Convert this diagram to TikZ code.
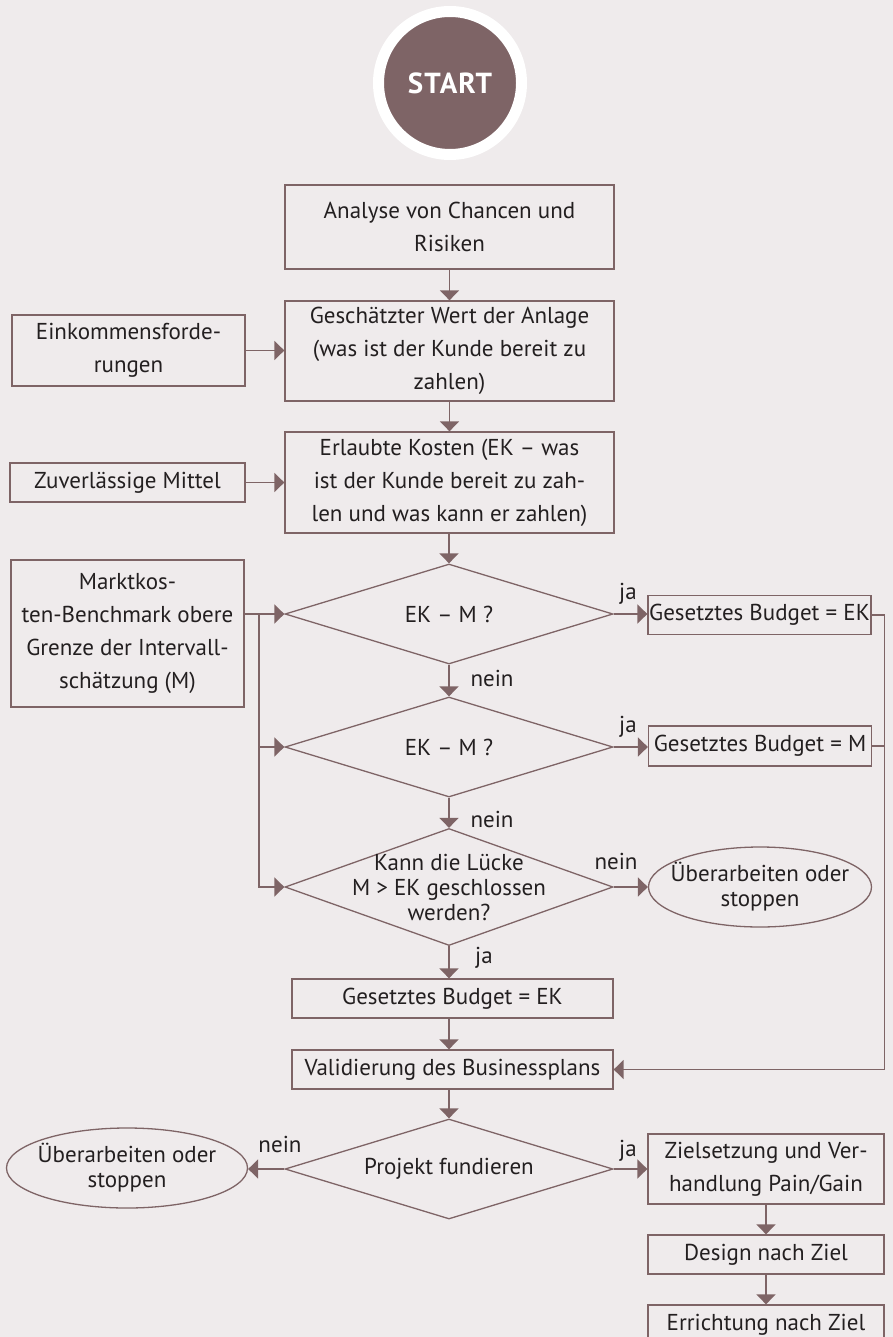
\documentclass[tikz,border=0pt]{standalone}
\usepackage{fontspec}
\setmainfont{PT Sans}
\usetikzlibrary{shapes.geometric,arrows.meta}
\definecolor{bgc}{HTML}{EFEBEC}
\definecolor{linec}{HTML}{7E6466}
\definecolor{txtc}{HTML}{231F20}
\begin{document}
\begin{tikzpicture}[x=1pt,y=-1pt,
  every node/.style={text=txtc,font=\fontsize{23}{33}\selectfont},
  box/.style={draw=linec,line width=1.3pt,rectangle,align=center,inner sep=0pt},
  decision/.style={draw=linec,line width=1.3pt,diamond,inner sep=0pt,minimum width=328pt,minimum height=100pt},
  term/.style={draw=linec,line width=1.3pt,ellipse,inner sep=0pt,minimum height=80pt},
  conn/.style={draw=linec,line width=1.5pt},
  flow/.style={conn,-{Triangle[width=19pt,length=10pt]}},
  lbl/.style={inner sep=0pt,align=center,font=\fontsize{23}{25}\selectfont}]
\path[fill=bgc,use as bounding box] (0,0) rectangle (893,1337);
\clip (0,0) rectangle (893,1337);
\node[circle,fill=linec,draw=white,line width=11pt,minimum size=143pt,inner sep=0pt,text=white,font=\fontsize{29}{29}\selectfont\bfseries\addfontfeatures{LetterSpace=4}] (start) at (450,83) {START};
\node[box,minimum width=329pt,minimum height=84pt] (analyse) at (449.5,227) {Analyse von Chancen und\\Risiken};
\node[box,minimum width=329pt,minimum height=100pt] (wert) at (449.5,351) {Geschätzter Wert der Anlage\\(was ist der Kunde bereit zu\\zahlen)};
\node[box,minimum width=233pt,minimum height=71pt] (einkommen) at (128.5,350.5) {Einkommensforde-\\rungen};
\node[box,minimum width=329pt,minimum height=101pt] (kosten) at (449.5,482.5) {Erlaubte Kosten (EK – was\\ist der Kunde bereit zu zah-\\len und was kann er zahlen)};
\node[box,minimum width=235pt,minimum height=39pt] (mittel) at (127.5,482.5) {Zuverlässige Mittel};
\node[box,minimum width=233pt,minimum height=147pt] (markt) at (127.5,633.5) {Marktkos-\\ten-Benchmark obere\\Grenze der Intervall-\\schätzung (M)};
\node[decision] (d1) at (449,614) {};
\node[lbl] (d1txt) at (d1) {EK – M ?};
\node[decision] (d2) at (449,747) {};
\node[lbl] (d2txt) at (d2) {EK – M ?};
\node[decision,minimum height=117pt] (d3) at (449,887) {};
\node[lbl] (d3txt) at (d3) {Kann die Lücke\\M > EK geschlossen\\werden?};
\node[box,minimum width=223pt,minimum height=39pt] (budek) at (759.5,615) {Gesetztes Budget = EK};
\node[box,minimum width=223pt,minimum height=40pt] (budm) at (760,746) {Gesetztes Budget = M};
\node[term,minimum width=223pt] (stop1) at (760,887) {};
\node[lbl] (stop1txt) at (stop1) {Überarbeiten oder\\stoppen};
\node[box,minimum width=321pt,minimum height=39pt] (budek2) at (452.5,998.5) {Gesetztes Budget = EK};
\node[box,minimum width=321pt,minimum height=39pt] (valid) at (452.5,1069.5) {Validierung des Businessplans};
\node[decision] (d4) at (449,1169) {};
\node[lbl] (d4txt) at (d4) {Projekt fundieren};
\node[term,minimum width=241pt] (stop2) at (127,1168) {};
\node[lbl] (stop2txt) at (stop2) {Überarbeiten oder\\stoppen};
\node[box,minimum width=236pt,minimum height=70pt] (ziel) at (766,1169) {Zielsetzung und Ver-\\handlung Pain/Gain};
\node[box,minimum width=236pt,minimum height=39pt] (design) at (766,1254.5) {Design nach Ziel};
\node[box,minimum width=236pt,minimum height=40pt] (errich) at (766,1325) {Errichtung nach Ziel};
\node[lbl] (ja1) at (628,594) {ja};
\node[lbl] (ja2) at (628,727) {ja};
\node[lbl] (nein3) at (616,861) {nein};
\node[lbl] (nein1) at (492,678) {nein};
\node[lbl] (nein2) at (492,819) {nein};
\node[lbl] (ja3) at (484,958) {ja};
\node[lbl] (nein4) at (280,1144) {nein};
\node[lbl] (ja4) at (628,1151) {ja};
\coordinate (split) at (259,614);
\draw[flow] (analyse) -- (wert);
\draw[flow] (wert) -- (kosten);
\draw[flow] (einkommen.east) -- (einkommen.east -| wert.west);
\draw[flow] (mittel.east) -- (mittel.east -| kosten.west);
\draw[flow] (kosten.south -| d1.north) -- (d1.north);
\draw[flow] (markt.east |- d1.west) -- (d1.west);
\draw[flow] (split) |- (d2.west);
\draw[flow] (split) |- (d3.west);
\draw[flow] (d1.east) -- (d1.east -| budek.west);
\draw[flow] (d1.south) -- (d2.north);
\draw[flow] (d2.east) -- (d2.east -| budm.west);
\draw[flow] (d2.south) -- (d3.north);
\draw[flow] (d3.east) -- (d3.east -| stop1.west);
\draw[flow] (d3.south) -- (d3.south |- budek2.north);
\draw[flow] (budek2.south -| d3.south) -- (valid.north -| d3.south);
\draw[flow] (budek.east) -- ++(13,0) |- (valid.east);
\draw[conn] (budm.east) -- ++(13,0);
\draw[flow] (valid.south -| d4.north) -- (d4.north);
\draw[flow] (d4.west) -- (d4.west -| stop2.east);
\draw[flow] (d4.east) -- (d4.east -| ziel.west);
\draw[flow] (ziel) -- (design);
\draw[flow] (design) -- (errich);
\end{tikzpicture}
\end{document}
